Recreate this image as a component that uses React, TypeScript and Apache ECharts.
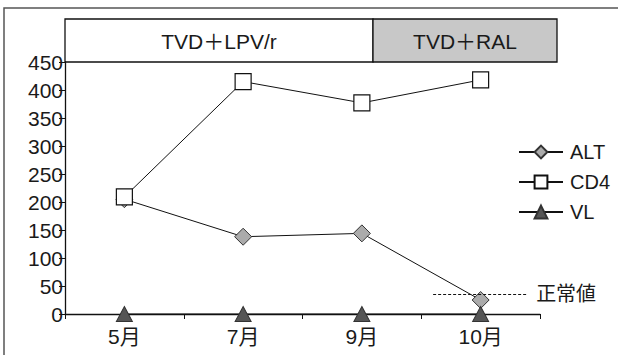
import React, { useEffect, useRef } from "react";
import * as echarts from "echarts";

const categories = ["5月", "7月", "9月", "10月"];
const altValues = [205, 138, 144, 25];
const cd4Values = [209, 415, 377, 418];
const vlValues = [0, 0, 0, 0];
const yTicks = { min: 0, max: 450, interval: 50 };
const regimens = ["TVD＋LPV/r", "TVD＋RAL"];
const normalValue = 35;
const normalSpan = [3.1, 3.9];
const normalLabel = "正常値";

const FONT = '"Liberation Sans", "Noto Sans CJK JP", sans-serif';
const TEXT = "#1a1a1a";

export default function App() {
  const ref = useRef<HTMLDivElement>(null);
  useEffect(() => {
    if (!ref.current) return;
    const chart = echarts.init(ref.current, null, { renderer: "svg" });
    const lineStyle = { color: "#111", width: 1 };
    chart.setOption({
      animation: false,
      backgroundColor: "#fff",
      textStyle: { fontFamily: FONT },
      grid: { left: 65, right: 78, top: 62, bottom: 41, containLabel: false },
      xAxis: [
        {
          type: "category",
          data: categories,
          boundaryGap: true,
          axisLine: { lineStyle: { color: "#111", width: 1.3 } },
          axisTick: { show: true, length: 5, inside: false, lineStyle: { color: "#111" } },
          axisLabel: { color: TEXT, fontSize: 21, margin: 12, fontFamily: FONT },
        },
        { type: "value", min: 0, max: 4, show: false },
      ],
      yAxis: {
        type: "value",
        min: yTicks.min,
        max: yTicks.max,
        interval: yTicks.interval,
        axisLine: { show: true, lineStyle: { color: "#111", width: 1.3 } },
        axisTick: { show: true, length: 6, lineStyle: { color: "#111" } },
        splitLine: { show: false },
        axisLabel: { color: TEXT, fontSize: 21, margin: 2, fontFamily: FONT },
      },
      legend: {
        orient: "vertical",
        left: 513,
        top: 137,
        itemWidth: 44,
        itemHeight: 16,
        itemGap: 10,
        textStyle: { color: TEXT, fontSize: 20, fontFamily: FONT, padding: [0, 0, 0, 2] },
        data: ["ALT", "CD4", "VL"],
      },
      series: [
        {
          name: "ALT",
          type: "line",
          data: altValues,
          symbol: "diamond",
          symbolSize: 17,
          lineStyle,
          itemStyle: { color: "#ababab", borderColor: "#333", borderWidth: 1 },
          z: 3,
        },
        {
          name: "CD4",
          type: "line",
          data: cd4Values,
          symbol: "rect",
          symbolSize: 16,
          lineStyle,
          itemStyle: { color: "#fff", borderColor: "#111", borderWidth: 1.2 },
          z: 4,
        },
        {
          name: "VL",
          type: "line",
          data: vlValues,
          symbol: "triangle",
          symbolSize: [16, 15],
          lineStyle,
          itemStyle: { color: "#555", borderColor: "#333", borderWidth: 1 },
          z: 5,
        },
        {
          name: "normal",
          type: "line",
          xAxisIndex: 1,
          data: [],
          markLine: {
            silent: true,
            symbol: "none",
            lineStyle: { color: "#111", type: [3, 2], width: 1.2 },
            label: {
              show: true,
              position: "end",
              distance: 8,
              formatter: normalLabel,
              color: TEXT,
              fontSize: 20,
              fontFamily: FONT,
            },
            data: [
              [
                { coord: [normalSpan[0], normalValue] },
                { coord: [normalSpan[1], normalValue] },
              ],
            ],
          },
        },
      ],
      graphic: [
        {
          type: "rect",
          shape: { x: 4, y: 8, width: 700, height: 400 },
          style: { fill: "none", stroke: "#555", lineWidth: 1.5 },
          silent: true,
        },
        {
          type: "rect",
          shape: { x: 65, y: 19, width: 308, height: 43 },
          style: { fill: "#fff", stroke: "#111", lineWidth: 1.3 },
        },
        {
          type: "rect",
          shape: { x: 373, y: 19, width: 184, height: 43 },
          style: { fill: "#c8c8c8", stroke: "#111", lineWidth: 1.3 },
        },
        {
          type: "text",
          x: 219,
          y: 41,
          style: {
            text: regimens[0],
            fill: TEXT,
            font: `21px ${FONT}`,
            align: "center",
            verticalAlign: "middle",
          },
        },
        {
          type: "text",
          x: 465,
          y: 41,
          style: {
            text: regimens[1],
            fill: TEXT,
            font: `21px ${FONT}`,
            align: "center",
            verticalAlign: "middle",
          },
        },
      ],
    });
    return () => chart.dispose();
  }, []);
  return (
    <div
      ref={ref}
      style={{ position: "fixed", left: 0, top: 0, width: 618, height: 355 }}
    />
  );
}
